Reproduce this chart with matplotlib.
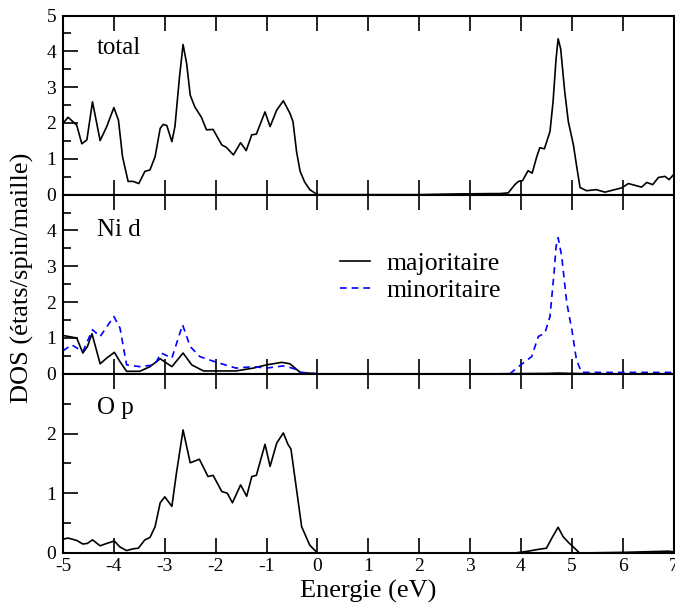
import numpy as np
import matplotlib
matplotlib.use("Agg")
import matplotlib.pyplot as plt
from matplotlib.ticker import MultipleLocator

plt.rcParams['font.family'] = ['Liberation Serif', 'DejaVu Serif']
plt.rcParams['axes.unicode_minus'] = False

# total DOS
e_total = [-5.0, -4.9, -4.73, -4.63, -4.53, -4.42, -4.27, -4.14, -4.0, -3.91, -3.83, -3.72,
           -3.62, -3.51, -3.39, -3.29, -3.19, -3.09, -3.03, -2.96, -2.86, -2.8, -2.71, -2.64,
           -2.57, -2.5, -2.41, -2.28, -2.18, -2.05, -1.88, -1.79, -1.65, -1.51, -1.4, -1.29,
           -1.2, -1.03, -0.93, -0.8, -0.67, -0.54, -0.48, -0.41, -0.34, -0.25, -0.15, 0.0,
           1.0, 2.0, 2.73, 3.45, 3.59, 3.75, 3.88, 3.95, 4.03, 4.14, 4.22, 4.31, 4.37, 4.46,
           4.57, 4.63, 4.69, 4.73, 4.78, 4.86, 4.93, 5.03, 5.09, 5.16, 5.29, 5.48,
           5.65, 5.98, 6.11, 6.37, 6.47, 6.59, 6.7, 6.83, 6.91, 7.0]
dos_total = [1.99, 2.16, 1.94, 1.42, 1.53, 2.59, 1.51, 1.9, 2.43, 2.08, 1.06, 0.37,
             0.37, 0.31, 0.65, 0.69, 1.06, 1.85, 1.96, 1.93, 1.48, 1.9, 3.29, 4.19,
             3.66, 2.78, 2.45, 2.16, 1.81, 1.82, 1.39, 1.32, 1.11, 1.45, 1.23, 1.67,
             1.69, 2.31, 1.9, 2.36, 2.62, 2.27, 2.04, 1.2, 0.65, 0.35, 0.14, 0.0,
             0.0, 0.0, 0.02, 0.03, 0.03, 0.05, 0.28, 0.37, 0.39, 0.67, 0.6, 1.06, 1.31, 1.28,
             1.76, 2.59, 3.8, 4.35, 4.07, 2.87, 2.04, 1.39, 0.83, 0.2, 0.11, 0.14,
             0.07, 0.19, 0.31, 0.21, 0.34, 0.28, 0.48, 0.51, 0.42, 0.56]

# Ni d majoritaire
e_ni_up = [-5.0, -4.73, -4.61, -4.52, -4.43, -4.27, -4.14, -3.99, -3.88, -3.75, -3.49,
           -3.29, -3.09, -2.86, -2.64, -2.47, -2.24, -1.98, -1.6, -1.26, -1.0, -0.7, -0.54,
           -0.34, 0.0, 3.5, 4.5, 4.73, 5.0, 5.5, 7.0]
dos_ni_up = [1.07, 1.0, 0.58, 0.76, 1.12, 0.28, 0.44, 0.6, 0.34, 0.07, 0.07,
             0.2, 0.42, 0.2, 0.58, 0.25, 0.08, 0.08, 0.08, 0.16, 0.25, 0.32, 0.28,
             0.04, 0.0, 0.0, 0.01, 0.02, 0.01, 0.0, 0.0]

# Ni d minoritaire
e_ni_dn = [-5.0, -4.83, -4.61, -4.42, -4.27, -4.0, -3.88, -3.75, -3.49, -3.2, -3.07,
           -2.86, -2.65, -2.5, -2.31, -1.98, -1.6, -1.26, -1.0, -0.67, -0.47, -0.34, 0.0,
           3.78, 3.95, 4.08, 4.21, 4.34, 4.47, 4.57, 4.65, 4.69, 4.73, 4.8, 4.9, 5.0, 5.09,
           5.19, 5.52, 7.0]
dos_ni_dn = [0.64, 0.81, 0.62, 1.23, 1.04, 1.6, 1.28, 0.25, 0.2, 0.25, 0.58,
             0.44, 1.37, 0.76, 0.48, 0.32, 0.16, 0.2, 0.16, 0.22, 0.15, 0.04, 0.0,
             0.0, 0.2, 0.34, 0.48, 1.04, 1.14, 1.6, 2.82, 3.56, 3.8, 3.28, 1.98, 1.23, 0.39,
             0.04, 0.04, 0.04]

# O p
e_op = [-5.0, -4.9, -4.73, -4.61, -4.52, -4.42, -4.27, -4.14, -3.99, -3.88, -3.75, -3.62,
        -3.52, -3.39, -3.29, -3.19, -3.09, -3.0, -2.86, -2.77, -2.64, -2.5, -2.32, -2.15,
        -2.05, -1.88, -1.77, -1.67, -1.51, -1.39, -1.29, -1.2, -1.03, -0.93, -0.8, -0.67,
        -0.58, -0.52, -0.41, -0.31, -0.15, 0.0, 3.88, 4.14, 4.34, 4.5, 4.62, 4.73, 4.83,
        4.94, 5.03, 5.15, 6.0, 6.9, 7.0]
dos_op = [0.23, 0.25, 0.21, 0.15, 0.16, 0.22, 0.12, 0.16, 0.2, 0.1, 0.04, 0.07,
          0.08, 0.22, 0.26, 0.44, 0.84, 0.94, 0.78, 1.34, 2.06, 1.51, 1.57, 1.28,
          1.3, 1.03, 1.0, 0.84, 1.14, 0.95, 1.28, 1.3, 1.82, 1.45, 1.84, 2.01,
          1.82, 1.74, 1.06, 0.44, 0.13, 0.0, 0.0, 0.03, 0.06, 0.08, 0.27, 0.43, 0.27,
          0.17, 0.1, 0.0, 0.01, 0.03, 0.02]

fig, axes = plt.subplots(3, 1, figsize=(6.75, 6.08), dpi=100, sharex=True,
                         gridspec_kw={'hspace': 0})
fig.subplots_adjust(left=0.0933, right=0.998, top=0.9745, bottom=0.0905)
ax1, ax2, ax3 = axes

ax1.plot(e_total, dos_total, color='black', lw=1.2)
ax2.plot(e_ni_up, dos_ni_up, color='black', lw=1.2, label='majoritaire')
ax2.plot(e_ni_dn, dos_ni_dn, color='blue', lw=1.2, ls=(0, (4, 3)), label='minoritaire')
ax3.plot(e_op, dos_op, color='black', lw=1.2)

ax1.set_ylim(0, 5)
ax1.set_yticks([0, 1, 2, 3, 4, 5])
ax2.set_ylim(0, 5)
ax2.set_yticks([0, 1, 2, 3, 4])
ax3.set_ylim(0, 3)
ax3.set_yticks([0, 1, 2])

for ax, name, ty in zip(axes, ['total', 'Ni d', 'O p'], [0.82, 0.80, 0.81]):
    ax.set_xlim(-5, 7)
    ax.xaxis.set_major_locator(MultipleLocator(1))
    ax.yaxis.set_minor_locator(MultipleLocator(0.5))
    ax.tick_params(axis='x', which='major', direction='in', top=True, bottom=True,
                   length=11, width=1.2, labelsize=14)
    ax.tick_params(axis='y', which='major', direction='in', left=True, right=False,
                   length=11, width=1.2, labelsize=14, pad=5)
    ax.tick_params(axis='y', which='minor', direction='in', left=True, right=False,
                   length=6, width=1.2)
    for s in ax.spines.values():
        s.set_linewidth(1.5)
    ax.text(0.055, ty, name, transform=ax.transAxes, fontsize=18, va='center')

ax3.set_xlabel('Energie (eV)', fontsize=19, labelpad=4)
fig.text(0.033, 0.543, 'DOS (états/spin/maille)', rotation=90, fontsize=19,
         va='center', ha='center')

ax2.legend(loc='upper left', bbox_to_anchor=(0.453, 0.68), frameon=False, fontsize=18.5,
           handlelength=1.2, handletextpad=0.62, labelspacing=0.17, borderaxespad=0,
           borderpad=0)

fig.savefig('out.png', dpi=100)
